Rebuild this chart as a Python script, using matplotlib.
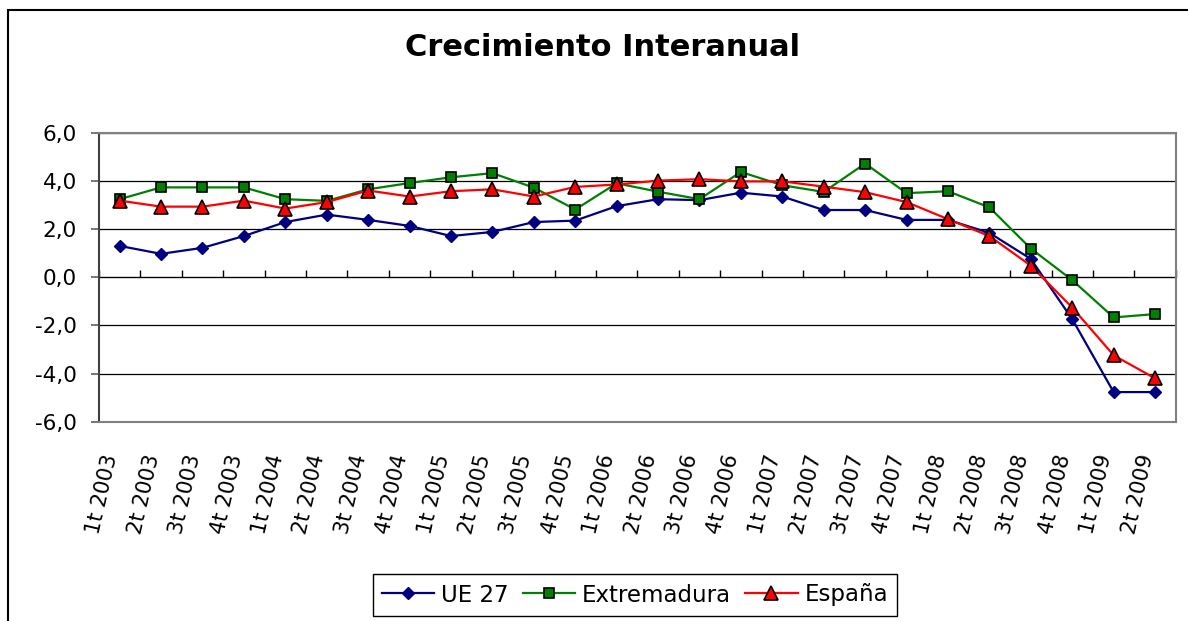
import matplotlib
matplotlib.use("Agg")
import matplotlib.pyplot as plt
import matplotlib.patches as mpatches
import matplotlib.transforms as mtransforms
from matplotlib.ticker import FuncFormatter, MultipleLocator
import numpy as np

# %% data
periodos = ["1t 2003", "2t 2003", "3t 2003", "4t 2003",
            "1t 2004", "2t 2004", "3t 2004", "4t 2004",
            "1t 2005", "2t 2005", "3t 2005", "4t 2005",
            "1t 2006", "2t 2006", "3t 2006", "4t 2006",
            "1t 2007", "2t 2007", "3t 2007", "4t 2007",
            "1t 2008", "2t 2008", "3t 2008", "4t 2008",
            "1t 2009", "2t 2009"]
ue27 = [1.30, 0.97, 1.22, 1.71, 2.29, 2.60, 2.38, 2.13, 1.71, 1.88, 2.29, 2.35, 2.95,
        3.24, 3.20, 3.51, 3.35, 2.79, 2.79, 2.38, 2.38, 1.84, 0.76, -1.74, -4.77, -4.77]
extremadura = [3.24, 3.73, 3.73, 3.73, 3.24, 3.17, 3.65, 3.91, 4.15, 4.32, 3.72, 2.81, 3.90,
               3.55, 3.24, 4.37, 3.82, 3.54, 4.72, 3.49, 3.57, 2.90, 1.19, -0.12, -1.67, -1.53]
espana = [3.18, 2.93, 2.93, 3.18, 2.85, 3.12, 3.60, 3.35, 3.57, 3.65, 3.35, 3.75, 3.85,
          4.01, 4.07, 3.98, 3.98, 3.76, 3.53, 3.12, 2.41, 1.71, 0.48, -1.26, -3.24, -4.20]

# %% figure
fig = plt.figure(figsize=(11.88, 6.21), dpi=100)
ax = fig.add_axes([0.0833, 0.3209, 0.9064, 0.4654])

x = np.arange(len(periodos))
ax.plot(x, ue27, color="#000080", lw=1.6, marker="D", ms=6.5,
        mfc="#000080", mec="#000080", label="UE 27", zorder=3)
ax.plot(x, extremadura, color="#008000", lw=1.6, marker="s", ms=7,
        mfc="#008000", mec="black", mew=1.2, label="Extremadura", zorder=4)
ax.plot(x, espana, color="#FF0000", lw=1.6, marker="^", ms=10,
        mfc="#FF0000", mec="black", mew=1.2, label="España", zorder=5)

ax.set_xlim(-0.5, len(periodos) - 0.5)
ax.set_ylim(-6, 6)
ax.yaxis.set_major_locator(MultipleLocator(2))
ax.yaxis.set_major_formatter(FuncFormatter(lambda v, p: f"{v:.1f}".replace(".", ",")))
ax.grid(axis="y", color="black", lw=0.9)
ax.set_axisbelow(True)

for s in ["top", "right", "bottom"]:
    ax.spines[s].set_color("#808080")
    ax.spines[s].set_linewidth(1.5)
ax.spines["left"].set_color("#404040")
ax.spines["left"].set_linewidth(1.5)
ax.tick_params(axis="y", length=6, width=1.2, color="#606060", labelsize=15.5, pad=10)

ax.set_xticks(x)
ax.set_xticklabels(periodos, rotation=77, ha="right", va="center",
                   rotation_mode="anchor", fontsize=15)
ax.tick_params(axis="x", length=0, pad=24)
offset = mtransforms.ScaledTranslation(-8 / 100, 0, fig.dpi_scale_trans)
for lab in ax.get_xticklabels():
    lab.set_transform(lab.get_transform() + offset)

# category axis crossing at 0 with tick marks between categories
ymin, ymax = ax.get_ylim()
sec = ax.secondary_xaxis((0 - ymin) / (ymax - ymin))
sec.set_xticks(np.arange(len(periodos) + 1) - 0.5)
sec.set_xticklabels([])
sec.tick_params(axis="x", length=5, width=1, color="black", direction="out")
sec.spines["bottom"].set_color("black")
sec.spines["bottom"].set_linewidth(1)

fig.text(603 / 1188, 1 - 48 / 621, "Crecimiento Interanual",
         fontsize=22, fontweight="bold", ha="center", va="center")

leg = fig.legend(loc="center", bbox_to_anchor=(635 / 1188, 1 - 595 / 621), ncol=3,
                 fontsize=16.5, fancybox=False, edgecolor="black", framealpha=1,
                 handlelength=2.3, handletextpad=0.3, columnspacing=0.6,
                 borderpad=0.4, borderaxespad=0)
leg.get_frame().set_linewidth(1)

# outer chart border
fig.patches.append(mpatches.Rectangle((7.5 / 1188, -0.1), 1.2, 1.1 - 10 / 621,
                                      transform=fig.transFigure, fill=False,
                                      edgecolor="black", lw=1.5))

fig.savefig("out.png", dpi=100)
